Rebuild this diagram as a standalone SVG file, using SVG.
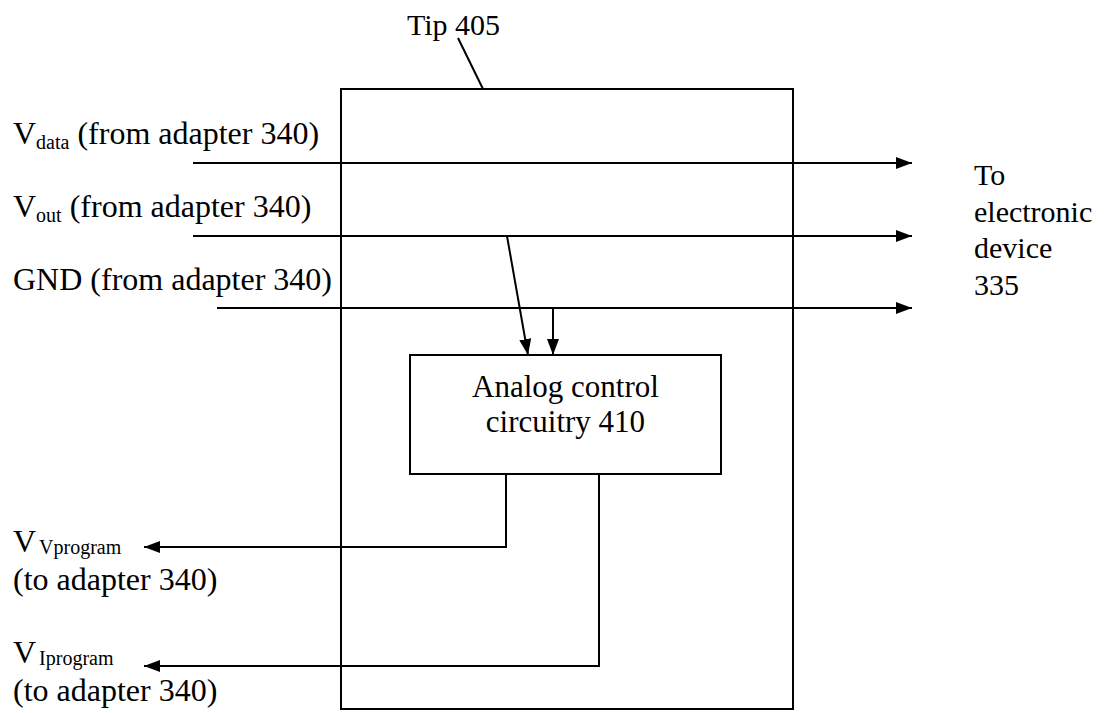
<svg xmlns="http://www.w3.org/2000/svg" width="1109" height="713" viewBox="0 0 1109 713">
<style>
text{font-family:"Liberation Serif","Times New Roman",serif;fill:#000}
.lbl{font-size:32px}
.sub{font-size:20px}
.box{fill:none;stroke:#000;stroke-width:2}
.w{fill:none;stroke:#000;stroke-width:2}
</style>
<defs>
<marker id="ah" markerUnits="userSpaceOnUse" markerWidth="16" markerHeight="12" refX="16" refY="6" orient="auto">
<path d="M0,0 L16,6 L0,12 z" fill="#000"/>
</marker>
</defs>
<rect width="1109" height="713" fill="#fff"/>
<g id="tip405">
<rect class="box" x="341" y="89" width="452" height="620"/>
<text x="407" y="35" style="font-size:30px">Tip 405</text>
</g>
<g id="analog410">
<rect class="box" x="410" y="355" width="311" height="119"/>
<text x="565.5" y="397" text-anchor="middle" style="font-size:31px">Analog control</text>
<text x="565.5" y="432" text-anchor="middle" style="font-size:31px">circuitry 410</text>
</g>
<g id="labels">
<text class="lbl" x="13" y="144">V<tspan class="sub" dy="5">data</tspan><tspan dy="-5"> (from adapter 340)</tspan></text>
<text class="lbl" x="13" y="217">V<tspan class="sub" dy="5">out</tspan><tspan dy="-5"> (from adapter 340)</tspan></text>
<text class="lbl" x="13" y="290">GND (from adapter 340)</text>
<text class="lbl" x="13" y="552">V<tspan class="sub" dx="3" dy="2">Vprogram</tspan></text>
<text class="lbl" x="13" y="590">(to adapter 340)</text>
<text class="lbl" x="13" y="663">V<tspan class="sub" dx="3" dy="2">Iprogram</tspan></text>
<text class="lbl" x="13" y="701">(to adapter 340)</text>
</g>
<g id="device335">
<text x="974" y="185" style="font-size:30px">To</text>
<text x="974" y="222" style="font-size:30px">electronic</text>
<text x="974" y="258" style="font-size:30px">device</text>
<text x="974" y="295" style="font-size:30px">335</text>
</g>
<g id="connectors">
<line class="w" x1="458" y1="38" x2="483" y2="89"/>
<line class="w" x1="193" y1="163" x2="912" y2="163" marker-end="url(#ah)"/>
<line class="w" x1="193" y1="236" x2="912" y2="236" marker-end="url(#ah)"/>
<line class="w" x1="217" y1="308" x2="912" y2="308" marker-end="url(#ah)"/>
<line class="w" x1="507" y1="236" x2="528" y2="355" marker-end="url(#ah)"/>
<line class="w" x1="553" y1="308" x2="553" y2="355" marker-end="url(#ah)"/>
<path class="w" d="M506,474 V547 H144" marker-end="url(#ah)"/>
<path class="w" d="M599,474 V666 H144" marker-end="url(#ah)"/>
</g>
</svg>
